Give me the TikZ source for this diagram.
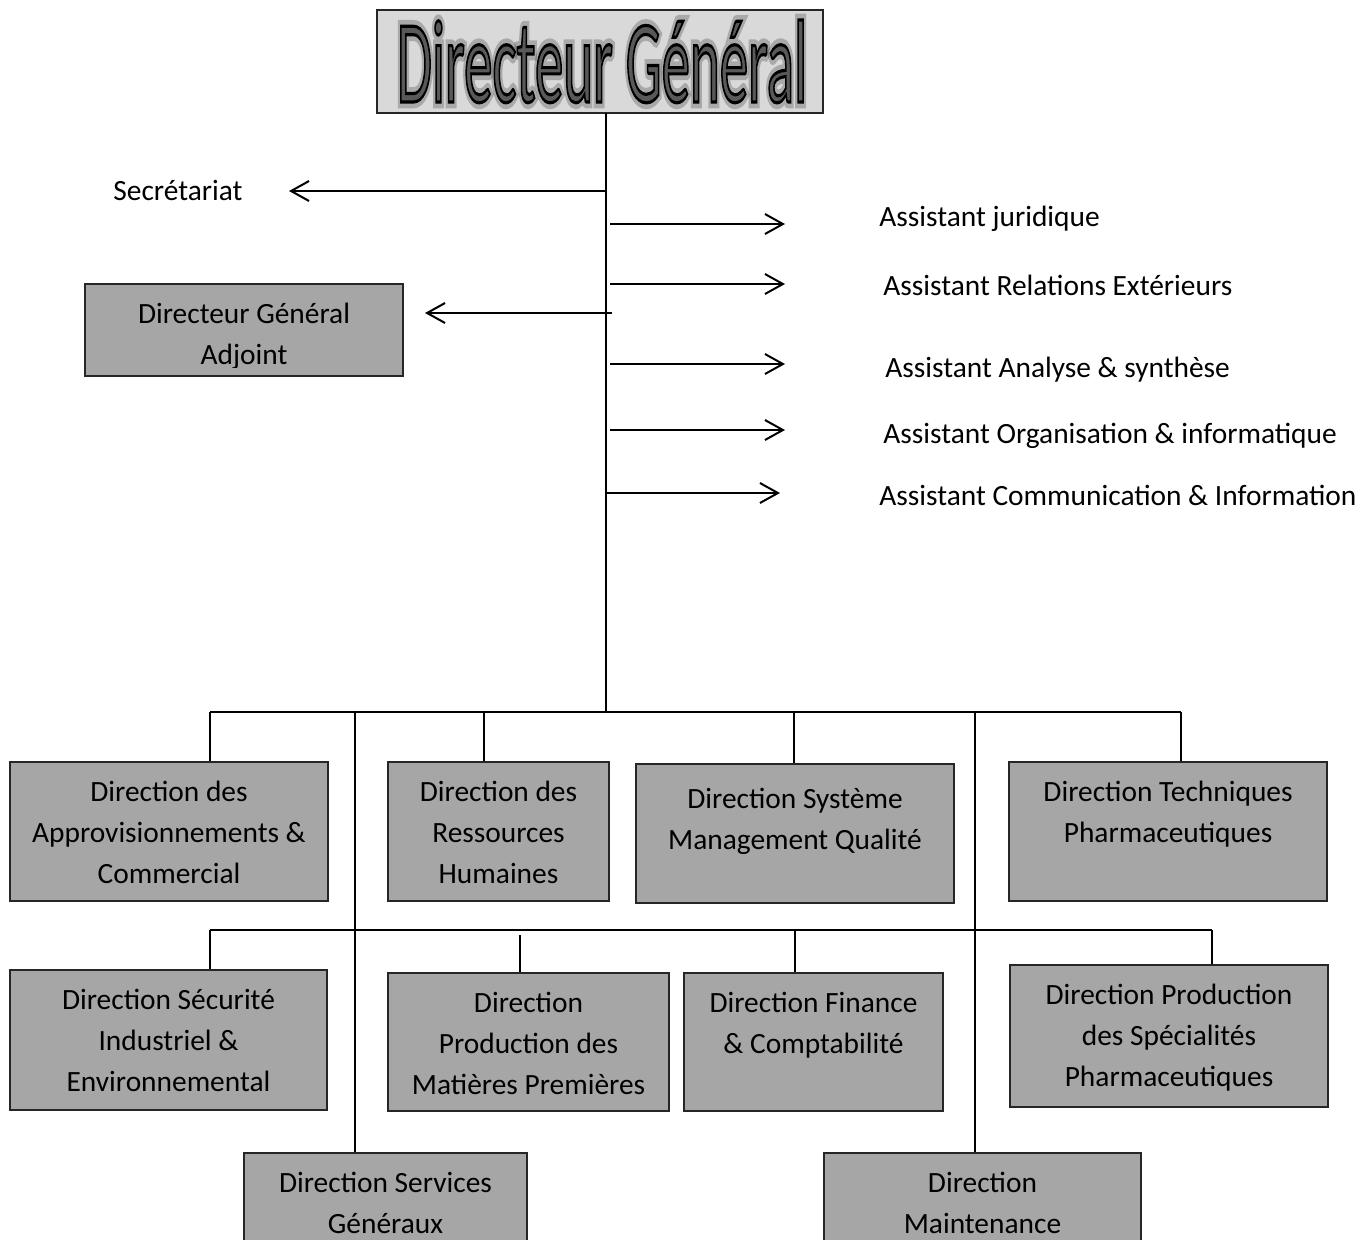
\documentclass[tikz,border=0pt]{standalone}
\usepackage{fontspec}
\setmainfont{Carlito}
\usetikzlibrary{arrows.meta,fit,calc}
\definecolor{boxgray}{HTML}{A6A6A6}
\definecolor{titlegray}{HTML}{D9D9D9}
\definecolor{lettergray}{HTML}{595959}
\definecolor{edgegray}{HTML}{262626}

% condensed title word, filled grey and stroked black (text render mode 2)
\newcommand{\dgword}{\resizebox{205pt}{41pt}{\fontsize{56}{56}\selectfont
  \special{pdf:literal direct 2 Tr 1.5 w 0 0 0 RG}Directeur Général\special{pdf:literal direct 0 Tr}}}
% soft dark halo behind the title letters (stroke only, wide)
\newcommand{\dghalo}{\resizebox{205pt}{41pt}{\fontsize{56}{56}\selectfont
  \special{pdf:literal direct 1 Tr 6 w 0 0 0 RG}Directeur Général\special{pdf:literal direct 0 Tr}}}

\begin{document}
\begin{tikzpicture}[x=0.5pt,y=-0.5pt,
  box/.style={draw=edgegray, fill=boxgray, line width=0.75pt, rectangle, inner sep=0pt},
  boxtext/.style={anchor=north, align=center, inner sep=0pt, font=\fontsize{14.7}{20.6}\selectfont},
  sidetext/.style={anchor=base west, inner sep=0pt, font=\fontsize{14.7}{20.6}\selectfont},
  wire/.style={line width=1pt, black},
  arr/.style={wire, -{Straight Barb[length=9pt,width=10pt,line width=1pt]}},
]
\useasboundingbox (0,0) rectangle (1368,1239);

% ---------- top: general manager ----------
\node[box, fill=titlegray, fit={(377,10) (823,113)}] (dg) {};
\node[inner sep=0pt, anchor=base, text=black, opacity=0.22] (dgh) at (602,102) {\dghalo};
\node[inner sep=0pt, anchor=base, text=lettergray] (dgt) at (602,102) {\dgword};

% ---------- trunk ----------
\coordinate (trunktop) at (606,113);
\coordinate (hub) at (606,712);
\draw[wire] (trunktop) -- (hub);

% ---------- staff positions ----------
\node[sidetext] (sec) at (113,200) {Secrétariat};
\coordinate (sec-s) at (606,191);
\coordinate (sec-e) at (289,191);
\draw[arr] (sec-s) -- (sec-e);

\node[box, fit={(85,284) (403,376)}] (dga) {};
\begin{scope}
  \clip (dga.north west) rectangle (403,367);
  \node[boxtext] (dga-t) at ($(dga.north)+(0,19.5)$) {Directeur Général\\Adjoint};
\end{scope}
\coordinate (dga-s) at (612,313);
\coordinate (dga-e) at (425,313);
\draw[arr] (dga-s) -- (dga-e);

\node[sidetext] (as1) at (879,226) {Assistant juridique};
\node[sidetext] (as2) at (883,295) {Assistant Relations Extérieurs};
\node[sidetext] (as3) at (885,377) {Assistant Analyse \& synthèse};
\node[sidetext] (as4) at (883,443) {Assistant Organisation \& informatique};
\node[sidetext] (as5) at (879,505) {Assistant Communication \& Information};
\coordinate (a1s) at (610,224); \coordinate (a1e) at (785,224);
\coordinate (a2s) at (610,284); \coordinate (a2e) at (785,284);
\coordinate (a3s) at (610,364); \coordinate (a3e) at (785,364);
\coordinate (a4s) at (610,430); \coordinate (a4e) at (785,430);
\coordinate (a5s) at (606,493); \coordinate (a5e) at (780,493);
\foreach \k in {1,...,5} \draw[arr] (a\k s) -- (a\k e);

% ---------- first row of directorates ----------
\node[box, fit={(10,762) (328,901)}] (appro) {};
\node[boxtext] (appro-t) at ($(appro.north)+(0,19.5)$) {Direction des\\Approvisionnements \&\\Commercial};
\node[box, fit={(388,762) (609,901)}] (rh) {};
\node[boxtext] (rh-t) at ($(rh.north)+(0,19.5)$) {Direction des\\Ressources\\Humaines};
\node[box, fit={(636,764) (954,903)}] (smq) {};
\node[boxtext] (smq-t) at ($(smq.north)+(0,24.5)$) {Direction Système\\Management Qualité};
\node[box, fit={(1009,762) (1327,901)}] (tech) {};
\node[boxtext] (tech-t) at ($(tech.north)+(0,19.5)$) {Direction Techniques\\Pharmaceutiques};

% ---------- second row of directorates ----------
\node[box, fit={(10,970) (327,1110)}] (secu) {};
\node[boxtext] (secu-t) at ($(secu.north)+(0,19.5)$) {Direction Sécurité\\Industriel \&\\Environnemental};
\node[box, fit={(388,973) (669,1111)}] (prodmp) {};
\node[boxtext] (prodmp-t) at ($(prodmp.north)+(0,19.5)$) {Direction\\Production des\\Matières Premières};
\node[box, fit={(684,973) (943,1111)}] (fin) {};
\node[boxtext] (fin-t) at ($(fin.north)+(0,19.5)$) {Direction Finance\\\& Comptabilité};
\node[box, fit={(1010,965) (1328,1107)}] (prodsp) {};
\node[boxtext] (prodsp-t) at ($(prodsp.north)+(0,19.5)$) {Direction Production\\des Spécialités\\Pharmaceutiques};

% ---------- third row ----------
\node[box, fit={(244,1153) (527,1270)}] (sg) {};
\node[boxtext] (sg-t) at ($(sg.north)+(0,19.5)$) {Direction Services\\Généraux};
\node[box, fit={(824,1153) (1141,1270)}] (maint) {};
\node[boxtext] (maint-t) at ($(maint.north)+(0,19.5)$) {Direction\\Maintenance};

% ---------- upper bus ----------
\coordinate (b1w) at (210,712);
\coordinate (b1e) at (1181,712);
\draw[wire] (b1w) -- (b1e);
\draw[wire] (b1w) -- (b1w |- appro.north);
\coordinate (d-rh) at (484,712);
\draw[wire] (d-rh) -- (d-rh |- rh.north);
\coordinate (d-smq) at (794,712);
\draw[wire] (d-smq) -- (d-smq |- smq.north);
\draw[wire] (b1e) -- (b1e |- tech.north);

% long drops to the third row
\coordinate (v-sg) at (355,712);
\draw[wire] (v-sg) -- (v-sg |- sg.north);
\coordinate (v-mt) at (975,712);
\draw[wire] (v-mt) -- (v-mt |- maint.north);

% ---------- lower bus ----------
\coordinate (b2w) at (210,930);
\coordinate (b2e) at (1212,930);
\draw[wire] (b2w) -- (b2e);
\draw[wire] (b2w) -- (b2w |- secu.north);
\coordinate (d-mp) at (520,935);
\draw[wire] (d-mp) -- (d-mp |- prodmp.north);
\coordinate (d-fin) at (795,930);
\draw[wire] (d-fin) -- (d-fin |- fin.north);
\draw[wire] (b2e) -- (b2e |- prodsp.north);
\end{tikzpicture}
\end{document}
